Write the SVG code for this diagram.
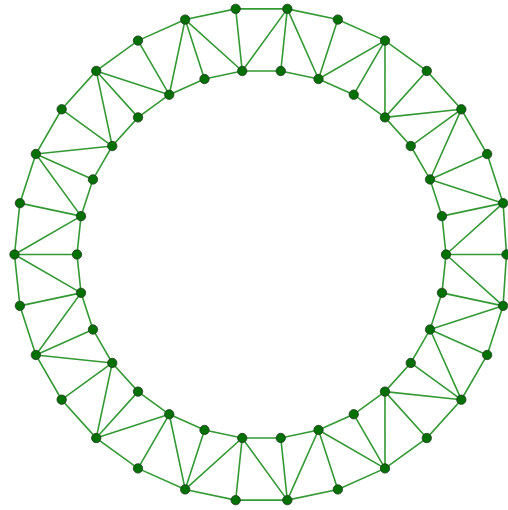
<svg xmlns="http://www.w3.org/2000/svg" width="508" height="510" viewBox="0 0 508 510">
<style>
.e{stroke:#339933;stroke-width:1.6;fill:none;stroke-linecap:round}
.n circle{fill:#007000;stroke:#2a3a2a;stroke-width:0.8}
</style>
<rect width="508" height="510" fill="#ffffff"/>
<g id="connectors">
<polygon class="e" points="506.5,254.5 503.1,203.15 487.15,154.04 461.33,109.32 426.77,70.94 385,40.59 337.83,19.59 287.32,8.85 235.68,8.85 185.17,19.59 138,40.59 96.23,70.94 61.67,109.32 35.85,154.04 19.9,203.15 14.5,254.5 19.9,305.85 35.85,354.96 61.67,399.68 96.23,438.06 138,468.41 185.17,489.41 235.68,500.15 287.32,500.15 337.83,489.41 385,468.41 426.77,438.06 461.33,399.68 487.15,354.96 503.1,305.85"/>
<polygon class="e" points="446,254.5 441.97,216.14 430.05,179.46 410.76,146.05 384.95,117.39 353.75,94.72 318.51,79.03 280.79,71.01 242.21,71.01 204.49,79.03 169.25,94.72 138.05,117.39 112.24,146.05 92.95,179.46 81.03,216.14 77,254.5 81.03,292.86 92.95,329.54 112.24,362.95 138.05,391.61 169.25,414.28 204.49,429.97 242.21,437.99 280.79,437.99 318.51,429.97 353.75,414.28 384.95,391.61 410.76,362.95 430.05,329.54 441.97,292.86"/>
<path class="e" d="M506.5,254.5L446,254.5 M503.1,203.15L441.97,216.14 M487.15,154.04L430.05,179.46 M461.33,109.32L410.76,146.05 M426.77,70.94L384.95,117.39 M385,40.59L353.75,94.72 M337.83,19.59L318.51,79.03 M287.32,8.85L280.79,71.01 M235.68,8.85L242.21,71.01 M185.17,19.59L204.49,79.03 M138,40.59L169.25,94.72 M96.23,70.94L138.05,117.39 M61.67,109.32L112.24,146.05 M35.85,154.04L92.95,179.46 M19.9,203.15L81.03,216.14 M14.5,254.5L77,254.5 M19.9,305.85L81.03,292.86 M35.85,354.96L92.95,329.54 M61.67,399.68L112.24,362.95 M96.23,438.06L138.05,391.61 M138,468.41L169.25,414.28 M185.17,489.41L204.49,429.97 M235.68,500.15L242.21,437.99 M287.32,500.15L280.79,437.99 M337.83,489.41L318.51,429.97 M385,468.41L353.75,414.28 M426.77,438.06L384.95,391.61 M461.33,399.68L410.76,362.95 M487.15,354.96L430.05,329.54 M503.1,305.85L441.97,292.86"/>
<path class="e" d="M503.1,203.15L446,254.5 M503.1,203.15L430.05,179.46 M461.33,109.32L430.05,179.46 M461.33,109.32L384.95,117.39 M385,40.59L384.95,117.39 M385,40.59L318.51,79.03 M287.32,8.85L318.51,79.03 M287.32,8.85L242.21,71.01 M185.17,19.59L242.21,71.01 M185.17,19.59L169.25,94.72 M96.23,70.94L169.25,94.72 M96.23,70.94L112.24,146.05 M35.85,154.04L112.24,146.05 M35.85,154.04L81.03,216.14 M14.5,254.5L81.03,216.14 M14.5,254.5L81.03,292.86 M35.85,354.96L81.03,292.86 M35.85,354.96L112.24,362.95 M96.23,438.06L112.24,362.95 M96.23,438.06L169.25,414.28 M185.17,489.41L169.25,414.28 M185.17,489.41L242.21,437.99 M287.32,500.15L242.21,437.99 M287.32,500.15L318.51,429.97 M385,468.41L318.51,429.97 M385,468.41L384.95,391.61 M461.33,399.68L384.95,391.61 M461.33,399.68L430.05,329.54 M503.1,305.85L430.05,329.54 M503.1,305.85L446,254.5"/>
</g>
<g class="n">
<g id="o0"><circle cx="506.5" cy="254.5" r="4.7"/></g>
<g id="o1"><circle cx="503.1" cy="203.15" r="4.7"/></g>
<g id="o2"><circle cx="487.15" cy="154.04" r="4.7"/></g>
<g id="o3"><circle cx="461.33" cy="109.32" r="4.7"/></g>
<g id="o4"><circle cx="426.77" cy="70.94" r="4.7"/></g>
<g id="o5"><circle cx="385" cy="40.59" r="4.7"/></g>
<g id="o6"><circle cx="337.83" cy="19.59" r="4.7"/></g>
<g id="o7"><circle cx="287.32" cy="8.85" r="4.7"/></g>
<g id="o8"><circle cx="235.68" cy="8.85" r="4.7"/></g>
<g id="o9"><circle cx="185.17" cy="19.59" r="4.7"/></g>
<g id="o10"><circle cx="138" cy="40.59" r="4.7"/></g>
<g id="o11"><circle cx="96.23" cy="70.94" r="4.7"/></g>
<g id="o12"><circle cx="61.67" cy="109.32" r="4.7"/></g>
<g id="o13"><circle cx="35.85" cy="154.04" r="4.7"/></g>
<g id="o14"><circle cx="19.9" cy="203.15" r="4.7"/></g>
<g id="o15"><circle cx="14.5" cy="254.5" r="4.7"/></g>
<g id="o16"><circle cx="19.9" cy="305.85" r="4.7"/></g>
<g id="o17"><circle cx="35.85" cy="354.96" r="4.7"/></g>
<g id="o18"><circle cx="61.67" cy="399.68" r="4.7"/></g>
<g id="o19"><circle cx="96.23" cy="438.06" r="4.7"/></g>
<g id="o20"><circle cx="138" cy="468.41" r="4.7"/></g>
<g id="o21"><circle cx="185.17" cy="489.41" r="4.7"/></g>
<g id="o22"><circle cx="235.68" cy="500.15" r="4.7"/></g>
<g id="o23"><circle cx="287.32" cy="500.15" r="4.7"/></g>
<g id="o24"><circle cx="337.83" cy="489.41" r="4.7"/></g>
<g id="o25"><circle cx="385" cy="468.41" r="4.7"/></g>
<g id="o26"><circle cx="426.77" cy="438.06" r="4.7"/></g>
<g id="o27"><circle cx="461.33" cy="399.68" r="4.7"/></g>
<g id="o28"><circle cx="487.15" cy="354.96" r="4.7"/></g>
<g id="o29"><circle cx="503.1" cy="305.85" r="4.7"/></g>
<g id="i0"><circle cx="446" cy="254.5" r="4.7"/></g>
<g id="i1"><circle cx="441.97" cy="216.14" r="4.7"/></g>
<g id="i2"><circle cx="430.05" cy="179.46" r="4.7"/></g>
<g id="i3"><circle cx="410.76" cy="146.05" r="4.7"/></g>
<g id="i4"><circle cx="384.95" cy="117.39" r="4.7"/></g>
<g id="i5"><circle cx="353.75" cy="94.72" r="4.7"/></g>
<g id="i6"><circle cx="318.51" cy="79.03" r="4.7"/></g>
<g id="i7"><circle cx="280.79" cy="71.01" r="4.7"/></g>
<g id="i8"><circle cx="242.21" cy="71.01" r="4.7"/></g>
<g id="i9"><circle cx="204.49" cy="79.03" r="4.7"/></g>
<g id="i10"><circle cx="169.25" cy="94.72" r="4.7"/></g>
<g id="i11"><circle cx="138.05" cy="117.39" r="4.7"/></g>
<g id="i12"><circle cx="112.24" cy="146.05" r="4.7"/></g>
<g id="i13"><circle cx="92.95" cy="179.46" r="4.7"/></g>
<g id="i14"><circle cx="81.03" cy="216.14" r="4.7"/></g>
<g id="i15"><circle cx="77" cy="254.5" r="4.7"/></g>
<g id="i16"><circle cx="81.03" cy="292.86" r="4.7"/></g>
<g id="i17"><circle cx="92.95" cy="329.54" r="4.7"/></g>
<g id="i18"><circle cx="112.24" cy="362.95" r="4.7"/></g>
<g id="i19"><circle cx="138.05" cy="391.61" r="4.7"/></g>
<g id="i20"><circle cx="169.25" cy="414.28" r="4.7"/></g>
<g id="i21"><circle cx="204.49" cy="429.97" r="4.7"/></g>
<g id="i22"><circle cx="242.21" cy="437.99" r="4.7"/></g>
<g id="i23"><circle cx="280.79" cy="437.99" r="4.7"/></g>
<g id="i24"><circle cx="318.51" cy="429.97" r="4.7"/></g>
<g id="i25"><circle cx="353.75" cy="414.28" r="4.7"/></g>
<g id="i26"><circle cx="384.95" cy="391.61" r="4.7"/></g>
<g id="i27"><circle cx="410.76" cy="362.95" r="4.7"/></g>
<g id="i28"><circle cx="430.05" cy="329.54" r="4.7"/></g>
<g id="i29"><circle cx="441.97" cy="292.86" r="4.7"/></g>
</g>
</svg>
